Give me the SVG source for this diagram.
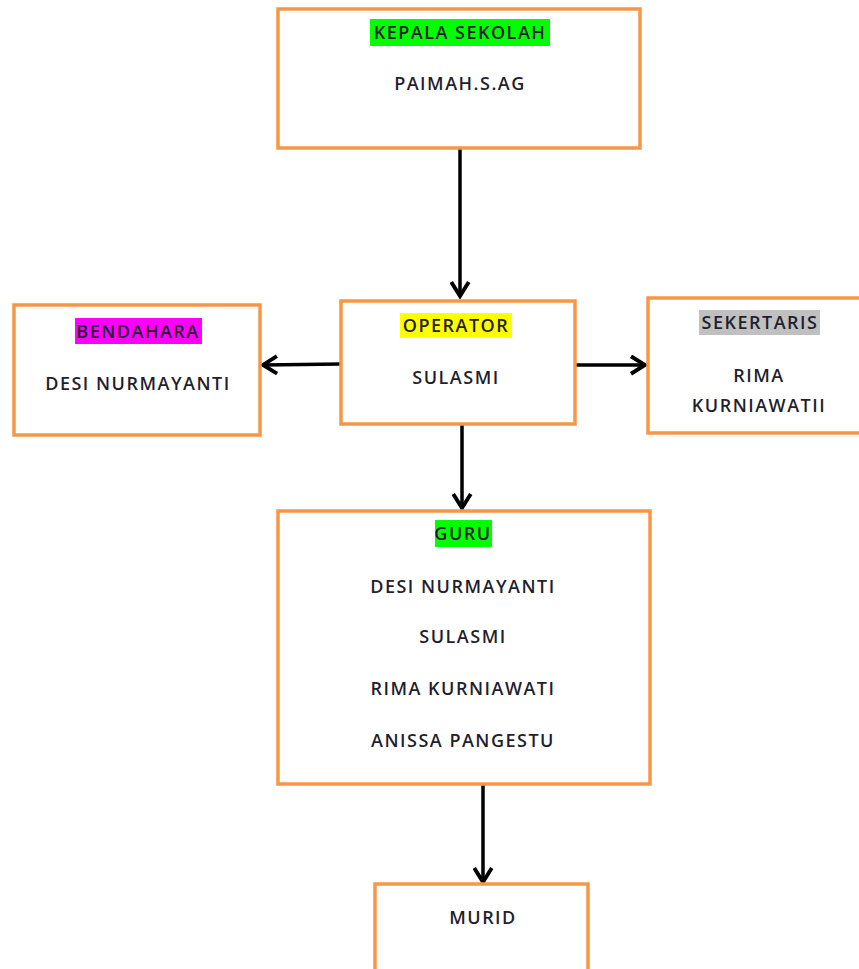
<svg xmlns="http://www.w3.org/2000/svg" width="859" height="969" viewBox="0 0 859 969">
<style>
.box{fill:#fff;stroke:#F79646;stroke-width:3.5}
.t{font-family:"Open Sans","Liberation Sans",sans-serif;font-size:18px;font-weight:600;fill:#1f1f2e;text-anchor:middle;letter-spacing:1.5px}
.c{stroke:#000;stroke-width:3.5;fill:none;marker-end:url(#ah)}
</style>
<defs>
<marker id="ah" viewBox="0 0 12 12" refX="10" refY="6" markerWidth="6" markerHeight="6" markerUnits="strokeWidth" orient="auto">
<path d="M2,1 L10,6 L2,11" fill="none" stroke="#000" stroke-width="2.2" stroke-linejoin="miter"/>
</marker>
</defs>
<rect width="859" height="969" fill="#fff"/>
<g id="connectors">
<line class="c" x1="460" y1="148" x2="460" y2="296"/>
<line class="c" x1="341" y1="364" x2="263" y2="365"/>
<line class="c" x1="575" y1="365" x2="645" y2="365"/>
<line class="c" x1="462" y1="424" x2="462" y2="508"/>
<line class="c" x1="483" y1="785" x2="483" y2="882"/>
</g>
<g id="kepala">
<rect class="box" x="278" y="9" width="362" height="139"/>
<rect x="370" y="19" width="180" height="27" fill="#00FF00"/>
<text class="t" x="460" y="39">KEPALA SEKOLAH</text>
<text class="t" x="460" y="90">PAIMAH.S.AG</text>
</g>
<g id="bendahara">
<rect class="box" x="14" y="305" width="246" height="130"/>
<rect x="75" y="318" width="127" height="26" fill="#FF00FF"/>
<text class="t" x="138" y="338">BENDAHARA</text>
<text class="t" x="138" y="390">DESI NURMAYANTI</text>
</g>
<g id="operator">
<rect class="box" x="341" y="301" width="234" height="123"/>
<rect x="400" y="313" width="112" height="25" fill="#FFFF00"/>
<text class="t" x="456" y="332">OPERATOR</text>
<text class="t" x="456" y="384">SULASMI</text>
</g>
<g id="sekertaris">
<rect class="box" x="648" y="298" width="215" height="135"/>
<rect x="699" y="310" width="121" height="25" fill="#C0C0C0"/>
<text class="t" x="760" y="329">SEKERTARIS</text>
<text class="t" x="759" y="382">RIMA</text>
<text class="t" x="759" y="412">KURNIAWATII</text>
</g>
<g id="guru">
<rect class="box" x="278" y="511" width="372" height="273"/>
<rect x="435" y="520" width="57" height="27" fill="#00FF00"/>
<text class="t" x="463" y="540">GURU</text>
<text class="t" x="463" y="593">DESI NURMAYANTI</text>
<text class="t" x="463" y="643">SULASMI</text>
<text class="t" x="463" y="695">RIMA KURNIAWATI</text>
<text class="t" x="463" y="747">ANISSA PANGESTU</text>
</g>
<g id="murid">
<rect class="box" x="375" y="884" width="213" height="100"/>
<text class="t" x="483" y="924">MURID</text>
</g>
</svg>
